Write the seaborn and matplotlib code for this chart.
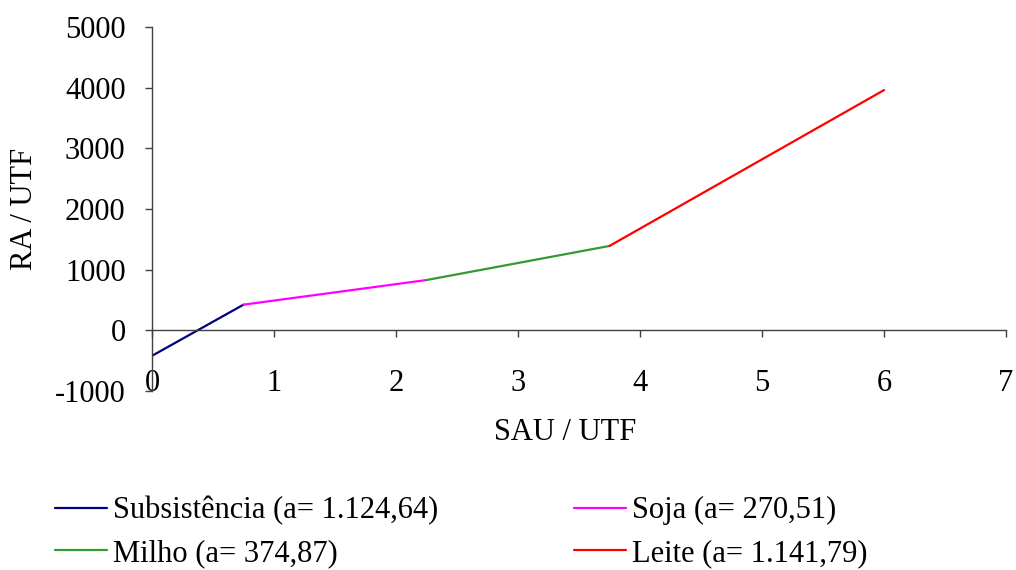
import matplotlib
matplotlib.use('Agg')
import matplotlib.pyplot as plt
import pandas as pd
import seaborn as sns

# Segments of the RA x SAU curve, one per production system
sistemas = ['Subsistência (a= 1.124,64)', 'Soja (a= 270,51)',
            'Milho (a= 374,87)', 'Leite (a= 1.141,79)']
sau_inicio = [0.0, 0.75, 2.25, 3.75]
sau_fim = [0.75, 2.25, 3.75, 6.0]
ra_inicio = [-420, 423, 829, 1391]
ra_fim = [423, 829, 1391, 3960]
cores = ['#000080', '#FF00FF', '#339933', '#FF0000']

x_ticks = [0, 1, 2, 3, 4, 5, 6, 7]
y_ticks = [-1000, 0, 1000, 2000, 3000, 4000, 5000]

rows = []
for nome, x0, x1, y0, y1 in zip(sistemas, sau_inicio, sau_fim, ra_inicio, ra_fim):
    rows.append({'sistema': nome, 'SAU': x0, 'RA': y0})
    rows.append({'sistema': nome, 'SAU': x1, 'RA': y1})
df = pd.DataFrame(rows)

sns.set_style('white')
plt.rcParams['font.family'] = ['Liberation Serif', 'DejaVu Serif']
plt.rcParams['text.color'] = 'black'
plt.rcParams['axes.labelcolor'] = 'black'
fs = 22

fig = plt.figure(figsize=(10.16, 5.70), dpi=100)
ax = fig.add_axes([152 / 1016, 1 - 391 / 570, (1006 - 152) / 1016, (391 - 27) / 570])

sns.lineplot(data=df, x='SAU', y='RA', hue='sistema', palette=dict(zip(sistemas, cores)),
             linewidth=1.6, ax=ax, legend=False, estimator=None, sort=False)

ax.set_xlim(0, 7)
ax.set_ylim(-1000, 5000)
ax.set_xticks(x_ticks)
ax.set_yticks(y_ticks)
ax.set_xticklabels([str(t) for t in x_ticks])
ax.set_yticklabels([str(t) if t >= 0 else '-' + str(abs(t)) for t in y_ticks])

spine_color = '#404040'
ax.spines['top'].set_visible(False)
ax.spines['right'].set_visible(False)
ax.spines['bottom'].set_position(('data', 0))
for s in ['left', 'bottom']:
    ax.spines[s].set_color(spine_color)
    ax.spines[s].set_linewidth(1.0)

ax.tick_params(axis='both', direction='out', length=5, width=1.0, color=spine_color,
               labelsize=fs, labelcolor='black')
ax.tick_params(axis='x', pad=23, bottom=True)
ax.tick_params(axis='y', pad=14, left=True)
ax.grid(False)

ax.set_xlabel('SAU / UTF', fontsize=fs)
ax.set_ylabel('RA / UTF', fontsize=fs)
ax.xaxis.set_label_coords((565 - 152) / (1006 - 152), -(432 - 391) / (391 - 27))
ax.yaxis.set_label_coords(-(152 - 25) / (1006 - 152), 0.5)
ax.xaxis.label.set_verticalalignment('center')
ax.yaxis.label.set_verticalalignment('center')

# Legend at the bottom, two columns
handles = [plt.Line2D([], [], color=c, linewidth=1.6) for c in cores]
order = [0, 2, 1, 3]
fig.legend([handles[i] for i in order], [sistemas[i] for i in order],
           loc='upper left', bbox_to_anchor=(55 / 1016, 1 - 496 / 570), ncol=2,
           frameon=False, fontsize=fs, handlelength=1.7, handletextpad=0.2,
           columnspacing=4.45, labelspacing=0.45, borderpad=0, borderaxespad=0)

fig.savefig('out.png', dpi=100)
